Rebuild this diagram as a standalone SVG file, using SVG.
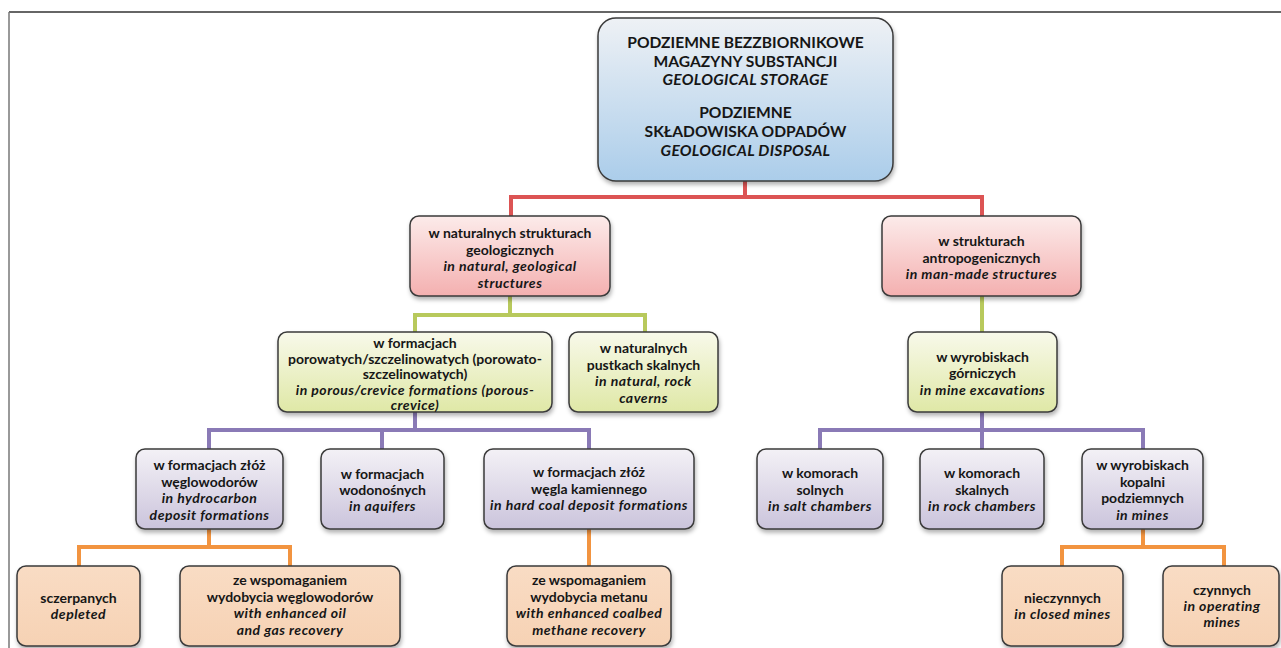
<svg xmlns="http://www.w3.org/2000/svg" width="1281" height="648" viewBox="0 0 1281 648">
<style>
.t{font-family:Lato,"Open Sans",sans-serif;font-size:14px;font-weight:bold;fill:#161616;text-anchor:middle}
.i{font-style:italic;letter-spacing:0.5px}
.r{font-family:Lato,"Open Sans",sans-serif;font-size:15.6px;font-weight:bold;fill:#161616;text-anchor:middle}
.r.i{letter-spacing:0.3px}
.box{stroke:#3a3a3a;stroke-width:1.5;filter:url(#sh)}
.c{fill:none;stroke-width:4;stroke-linejoin:miter}
.cr{stroke:#dc5454}.cg{stroke:#b8c95c}.cp{stroke:#8a7ab6}.co{stroke:#f29440}
</style>
<defs>
<linearGradient id="gRoot" x1="0" y1="0" x2="0" y2="1"><stop offset="0" stop-color="#eef1f5"/><stop offset="1" stop-color="#abcdea"/></linearGradient>
<linearGradient id="gRed" x1="0" y1="0" x2="0" y2="1"><stop offset="0" stop-color="#fcebea"/><stop offset="1" stop-color="#f4b0b0"/></linearGradient>
<linearGradient id="gGreen" x1="0" y1="0" x2="0" y2="1"><stop offset="0" stop-color="#f8f9ea"/><stop offset="1" stop-color="#dfe8a6"/></linearGradient>
<linearGradient id="gPurple" x1="0" y1="0" x2="0" y2="1"><stop offset="0" stop-color="#f3f1f6"/><stop offset="1" stop-color="#cbc4dc"/></linearGradient>
<linearGradient id="gOrange" x1="0" y1="0" x2="0" y2="1"><stop offset="0" stop-color="#f9dcc4"/><stop offset="1" stop-color="#f6d2b4"/></linearGradient>
<filter id="sh" x="-10%" y="-10%" width="120%" height="130%"><feDropShadow dx="1" dy="3" stdDeviation="2" flood-color="#000" flood-opacity="0.3"/></filter>
</defs>
<rect width="1281" height="648" fill="#fff"/>
<g id="frame" fill="none">
<line x1="9" y1="12" x2="1281" y2="12" stroke="#333" stroke-width="1.5"/>
<line x1="9" y1="12" x2="9" y2="648" stroke="#777" stroke-width="1.5"/>
</g>
<g id="connectors">
<path class="c cr" d="M745 181V197M511 216V197H982V216"/>
<path class="c cg" d="M510 296V315M415 332V315H645V332M982 296V332"/>
<path class="c cp" d="M415 412V430M209 449V430H589V449M382 430V449M982 412V430M820 449V430H1143V449M982 430V449"/>
<path class="c co" d="M209 529V547M79 566V547H290V566M589 529V566M1143 529V547M1062 566V547H1224V566"/>
</g>
<g id="root">
<rect class="box" x="598" y="18" width="295" height="163" rx="18" fill="url(#gRoot)"/>
<text class="r" x="745.5" y="48">PODZIEMNE BEZZBIORNIKOWE</text>
<text class="r" x="745.5" y="66.5">MAGAZYNY SUBSTANCJI</text>
<text class="r i" x="745.5" y="85">GEOLOGICAL STORAGE</text>
<text class="r" x="745.5" y="117.5">PODZIEMNE</text>
<text class="r" x="745.5" y="136.5">SKŁADOWISKA ODPADÓW</text>
<text class="r i" x="745.5" y="155.5">GEOLOGICAL DISPOSAL</text>
</g>
<g id="natural">
<rect class="box" x="410" y="216" width="200" height="80" rx="9" fill="url(#gRed)"/>
<text class="t" x="510" y="238">w naturalnych strukturach</text>
<text class="t" x="510" y="255">geologicznych</text>
<text class="t i" x="510" y="271">in natural, geological</text>
<text class="t i" x="510" y="288">structures</text>
</g>
<g id="manmade">
<rect class="box" x="882" y="216" width="199" height="80" rx="9" fill="url(#gRed)"/>
<text class="t" x="981.5" y="246">w strukturach</text>
<text class="t" x="981.5" y="263">antropogenicznych</text>
<text class="t i" x="981.5" y="279">in man-made structures</text>
</g>
<g id="porous">
<rect class="box" x="278" y="332" width="274" height="80" rx="9" fill="url(#gGreen)"/>
<text class="t" x="415" y="348">w formacjach</text>
<text class="t" x="415" y="363.5">porowatych/szczelinowatych (porowato-</text>
<text class="t" x="415" y="379">szczelinowatych)</text>
<text class="t i" x="415" y="394.5">in porous/crevice formations (porous-</text>
<text class="t i" x="415" y="410">crevice)</text>
</g>
<g id="caverns">
<rect class="box" x="569" y="332" width="149" height="80" rx="9" fill="url(#gGreen)"/>
<text class="t" x="643.5" y="353">w naturalnych</text>
<text class="t" x="643.5" y="370">pustkach skalnych</text>
<text class="t i" x="643.5" y="386">in natural, rock</text>
<text class="t i" x="643.5" y="403">caverns</text>
</g>
<g id="excavations">
<rect class="box" x="908" y="332" width="149" height="80" rx="9" fill="url(#gGreen)"/>
<text class="t" x="982.5" y="362">w wyrobiskach</text>
<text class="t" x="982.5" y="378">górniczych</text>
<text class="t i" x="982.5" y="395">in mine excavations</text>
</g>
<g id="hydrocarbon">
<rect class="box" x="136" y="449" width="147" height="80" rx="9" fill="url(#gPurple)"/>
<text class="t" x="209.5" y="470">w formacjach złóż</text>
<text class="t" x="209.5" y="487">węglowodorów</text>
<text class="t i" x="209.5" y="503">in hydrocarbon</text>
<text class="t i" x="209.5" y="520">deposit formations</text>
</g>
<g id="aquifers">
<rect class="box" x="321" y="449" width="123" height="80" rx="9" fill="url(#gPurple)"/>
<text class="t" x="382.5" y="479">w formacjach</text>
<text class="t" x="382.5" y="495">wodonośnych</text>
<text class="t i" x="382.5" y="511">in aquifers</text>
</g>
<g id="hardcoal">
<rect class="box" x="484" y="449" width="210" height="80" rx="9" fill="url(#gPurple)"/>
<text class="t" x="589" y="477">w formacjach złóż</text>
<text class="t" x="589" y="494">węgla kamiennego</text>
<text class="t i" x="589" y="510">in hard coal deposit formations</text>
</g>
<g id="salt">
<rect class="box" x="757" y="449" width="126" height="80" rx="9" fill="url(#gPurple)"/>
<text class="t" x="820" y="478">w komorach</text>
<text class="t" x="820" y="495">solnych</text>
<text class="t i" x="820" y="511">in salt chambers</text>
</g>
<g id="rock">
<rect class="box" x="920" y="449" width="124" height="80" rx="9" fill="url(#gPurple)"/>
<text class="t" x="982" y="478">w komorach</text>
<text class="t" x="982" y="495">skalnych</text>
<text class="t i" x="982" y="511">in rock chambers</text>
</g>
<g id="mines">
<rect class="box" x="1082" y="449" width="121" height="80" rx="9" fill="url(#gPurple)"/>
<text class="t" x="1142.5" y="470">w wyrobiskach</text>
<text class="t" x="1142.5" y="487">kopalni</text>
<text class="t" x="1142.5" y="503">podziemnych</text>
<text class="t i" x="1142.5" y="520">in mines</text>
</g>
<g id="depleted">
<rect class="box" x="17" y="566" width="123" height="80" rx="9" fill="url(#gOrange)"/>
<text class="t" x="78.5" y="603">sczerpanych</text>
<text class="t i" x="78.5" y="619">depleted</text>
</g>
<g id="eor">
<rect class="box" x="180" y="566" width="220" height="80" rx="9" fill="url(#gOrange)"/>
<text class="t" x="290" y="585">ze wspomaganiem</text>
<text class="t" x="290" y="602">wydobycia węglowodorów</text>
<text class="t i" x="290" y="618">with enhanced oil</text>
<text class="t i" x="290" y="635">and gas recovery</text>
</g>
<g id="ecbm">
<rect class="box" x="507" y="566" width="164" height="80" rx="9" fill="url(#gOrange)"/>
<text class="t" x="589" y="585">ze wspomaganiem</text>
<text class="t" x="589" y="602">wydobycia metanu</text>
<text class="t i" x="589" y="618">with enhanced coalbed</text>
<text class="t i" x="589" y="635">methane recovery</text>
</g>
<g id="closed">
<rect class="box" x="1002" y="566" width="121" height="80" rx="9" fill="url(#gOrange)"/>
<text class="t" x="1062.5" y="603">nieczynnych</text>
<text class="t i" x="1062.5" y="619">in closed mines</text>
</g>
<g id="operating">
<rect class="box" x="1163" y="566" width="116" height="80" rx="9" fill="url(#gOrange)"/>
<text class="t" x="1222" y="595">czynnych</text>
<text class="t i" x="1222" y="611">in operating</text>
<text class="t i" x="1222" y="627">mines</text>
</g>
</svg>
